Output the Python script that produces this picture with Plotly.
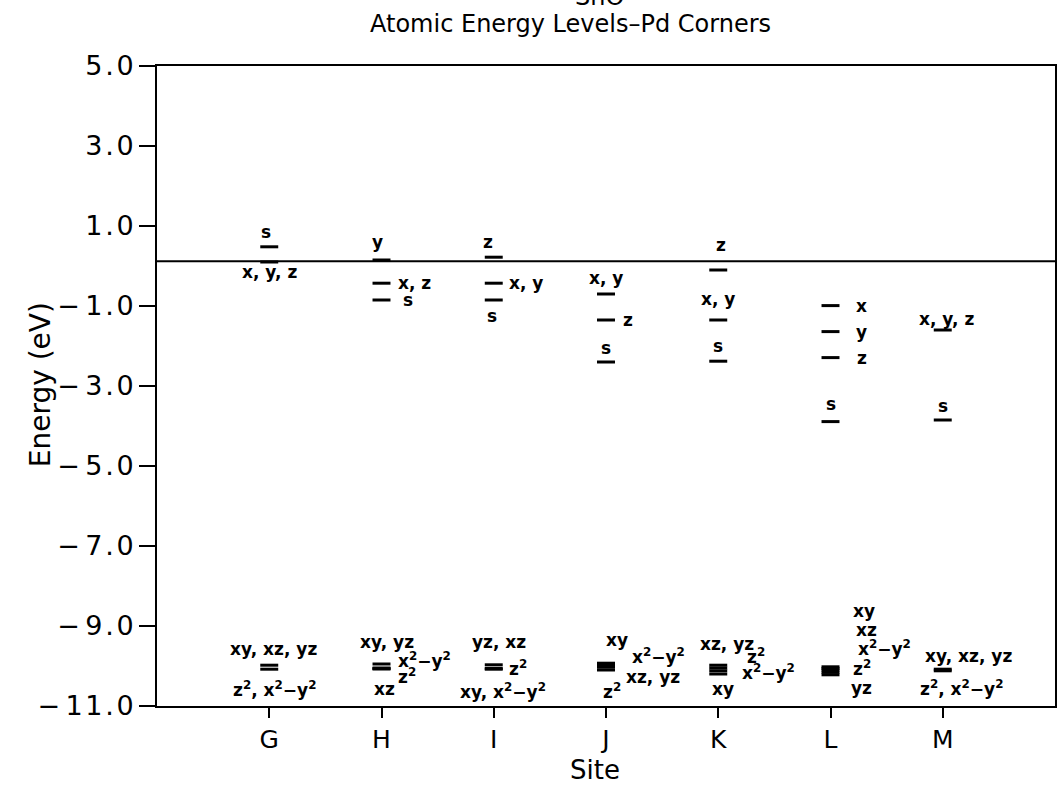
import plotly.graph_objects as go

# ---------------- data ----------------
sites = ["G", "H", "I", "J", "K", "L", "M"]
y_ticks = [5.0, 3.0, 1.0, -1.0, -3.0, -5.0, -7.0, -9.0, -11.0]
fermi_energy = 0.12

# s / p valence levels
sp_site = ["G", "G", "H", "H", "H", "I", "I", "I", "J", "J", "J",
           "K", "K", "K", "L", "L", "L", "L", "M", "M"]
sp_label = ["s", "x, y, z", "y", "x, z", "s", "z", "x, y", "s", "x, y", "z", "s",
            "z", "x, y", "s", "x", "y", "z", "s", "x, y, z", "s"]
sp_energy = [0.48, 0.10, 0.15, -0.43, -0.85, 0.22, -0.43, -0.85, -0.70, -1.35, -2.40,
             -0.10, -1.35, -2.38, -0.99, -1.64, -2.29, -3.89, -1.60, -3.85]

# d levels
d_site = ["G", "G", "H", "H", "H", "H", "I", "I", "I", "J", "J", "J", "J",
          "K", "K", "K", "K", "L", "L", "L", "L", "L", "M", "M"]
d_label = ["xy, xz, yz", "z<sup>2</sup>, x<sup>2</sup>\u2212y<sup>2</sup>",
           "xy, yz", "x<sup>2</sup>\u2212y<sup>2</sup>", "z<sup>2</sup>", "xz",
           "yz, xz", "z<sup>2</sup>", "xy, x<sup>2</sup>\u2212y<sup>2</sup>",
           "xy", "x<sup>2</sup>\u2212y<sup>2</sup>", "xz, yz", "z<sup>2</sup>",
           "xz, yz", "z<sup>2</sup>", "x<sup>2</sup>\u2212y<sup>2</sup>", "xy",
           "xy", "xz", "x<sup>2</sup>\u2212y<sup>2</sup>", "z<sup>2</sup>", "yz",
           "xy, xz, yz", "z<sup>2</sup>, x<sup>2</sup>\u2212y<sup>2</sup>"]
d_energy = [-9.98, -10.08,
            -9.95, -10.05, -10.07, -10.07,
            -9.97, -10.06, -10.08,
            -9.93, -9.98, -10.03, -10.10,
            -9.98, -10.05, -10.12, -10.20,
            -10.02, -10.06, -10.10, -10.16, -10.22,
            -10.08, -10.12]

# ---------------- label placement (style) ----------------
# (dx in site units, vertical shift in px, x anchor)
sp_place = [(-0.03, 15, "center"), (0.0, -10, "center"), (-0.04, 18, "center"),
            (0.13, 0, "left"), (0.17, 0, "left"), (-0.05, 15, "center"),
            (0.12, 0, "left"), (-0.02, -16, "center"), (0.0, 16, "center"),
            (0.13, 0, "left"), (0.0, 14, "center"), (0.02, 25, "center"),
            (0.0, 21, "center"), (0.0, 15, "center"), (0.28, 0, "center"),
            (0.28, 0, "center"), (0.28, 0, "center"), (0.0, 18, "center"),
            (0.03, 11, "center"), (0.0, 14, "center")]
d_place = [(0.04, 16, "center"), (0.05, -20, "center"),
           (0.05, 22, "center"), (0.13, 8, "left"), (0.13, -7, "left"), (0.03, -20, "center"),
           (0.05, 23, "center"), (0.12, 0, "left"), (0.08, -22, "center"),
           (0.10, 23, "center"), (0.21, 9, "left"), (0.16, -10, "left"), (0.05, -21, "center"),
           (0.08, 21, "center"), (0.24, 12, "left"), (0.19, -1, "left"), (0.04, -15, "center"),
           (0.30, 56, "center"), (0.32, 38, "center"), (0.23, 22, "left"),
           (0.28, 4, "center"), (0.28, -13, "center"),
           (0.23, 13, "center"), (0.17, -17, "center")]

pos = {s: i + 1 for i, s in enumerate(sites)}
HW = 0.08
FONT = "DejaVu Sans"

W, H = 1063, 790
ML, MR, MT, MB = 157, 6, 66, 84


def px_to_paper_x(px):
    return (px - ML) / (W - ML - MR)


def px_to_paper_y(py):
    return (H - MB - py) / (H - MT - MB)


def bar_xy(site_list, energy_list):
    xs, ys = [], []
    for s, e in zip(site_list, energy_list):
        c = pos[s]
        xs += [c - HW, c + HW, None]
        ys += [e, e, None]
    return xs, ys


def tick_text(v):
    s = f"{v:.1f}"
    neg = s.startswith("-")
    core = "\u200a".join(s.lstrip("-"))
    return ("\u2212\u2009" + core) if neg else core


fig = go.Figure()

# reference line across the plot
fig.add_trace(go.Scatter(x=[0, len(sites) + 1], y=[fermi_energy, fermi_energy],
                         mode="lines", line=dict(color="black", width=2),
                         hoverinfo="skip", showlegend=False))

spx, spy = bar_xy(sp_site, sp_energy)
fig.add_trace(go.Scatter(x=spx, y=spy, mode="lines",
                         line=dict(color="black", width=3), showlegend=False))
ddx, ddy = bar_xy(d_site, d_energy)
fig.add_trace(go.Scatter(x=ddx, y=ddy, mode="lines",
                         line=dict(color="black", width=3), showlegend=False))

annotations = []
for s, t, e, (ox, sy, anc) in zip(sp_site + d_site, sp_label + d_label,
                                  sp_energy + d_energy, sp_place + d_place):
    annotations.append(dict(x=pos[s] + ox, y=e, xref="x", yref="y", text=t,
                            showarrow=False, xanchor=anc, yanchor="middle", yshift=sy,
                            font=dict(family=FONT, size=17, color="black", weight="bold")))

# titles
annotations.append(dict(x=px_to_paper_x(600), y=px_to_paper_y(13), xref="paper", yref="paper",
                        text="SnO", showarrow=False, xanchor="center", yanchor="bottom",
                        font=dict(family=FONT, size=24, color="black")))
annotations.append(dict(x=px_to_paper_x(571), y=px_to_paper_y(24), xref="paper", yref="paper",
                        text="Atomic Energy Levels\u2013Pd Corners",
                        showarrow=False, xanchor="center", yanchor="middle",
                        font=dict(family=FONT, size=24, color="black")))
annotations.append(dict(x=px_to_paper_x(40), y=px_to_paper_y(385), xref="paper", yref="paper",
                        text="Energy (eV)", showarrow=False, textangle=-90,
                        xanchor="center", yanchor="middle",
                        font=dict(family=FONT, size=28, color="black")))
annotations.append(dict(x=px_to_paper_x(596), y=px_to_paper_y(770), xref="paper", yref="paper",
                        text="Site", showarrow=False, xanchor="center", yanchor="middle",
                        font=dict(family=FONT, size=26, color="black")))

fig.update_layout(
    width=W, height=H,
    margin=dict(l=ML, r=MR, t=MT, b=MB),
    paper_bgcolor="white", plot_bgcolor="white",
    showlegend=False,
    annotations=annotations,
    xaxis=dict(range=[0, len(sites) + 1], tickmode="array",
               tickvals=[pos[s] for s in sites], ticktext=sites,
               ticks="outside", ticklen=10, tickwidth=1.5, tickcolor="black",
               showline=True, linecolor="black", linewidth=2, mirror=True,
               showgrid=False, zeroline=False,
               tickfont=dict(family=FONT, size=25, color="black")),
    yaxis=dict(range=[-11, 5], tickmode="array", tickvals=y_ticks,
               ticktext=[tick_text(v) for v in y_ticks],
               ticks="outside", ticklen=16, tickwidth=1.5, tickcolor="black",
               showline=True, linecolor="black", linewidth=2, mirror=True,
               showgrid=False, zeroline=False,
               tickfont=dict(family=FONT, size=27, color="black")),
)

fig.write_html("out.html", config={"displayModeBar": False},
               post_script="document.body.style.margin='0px';")
